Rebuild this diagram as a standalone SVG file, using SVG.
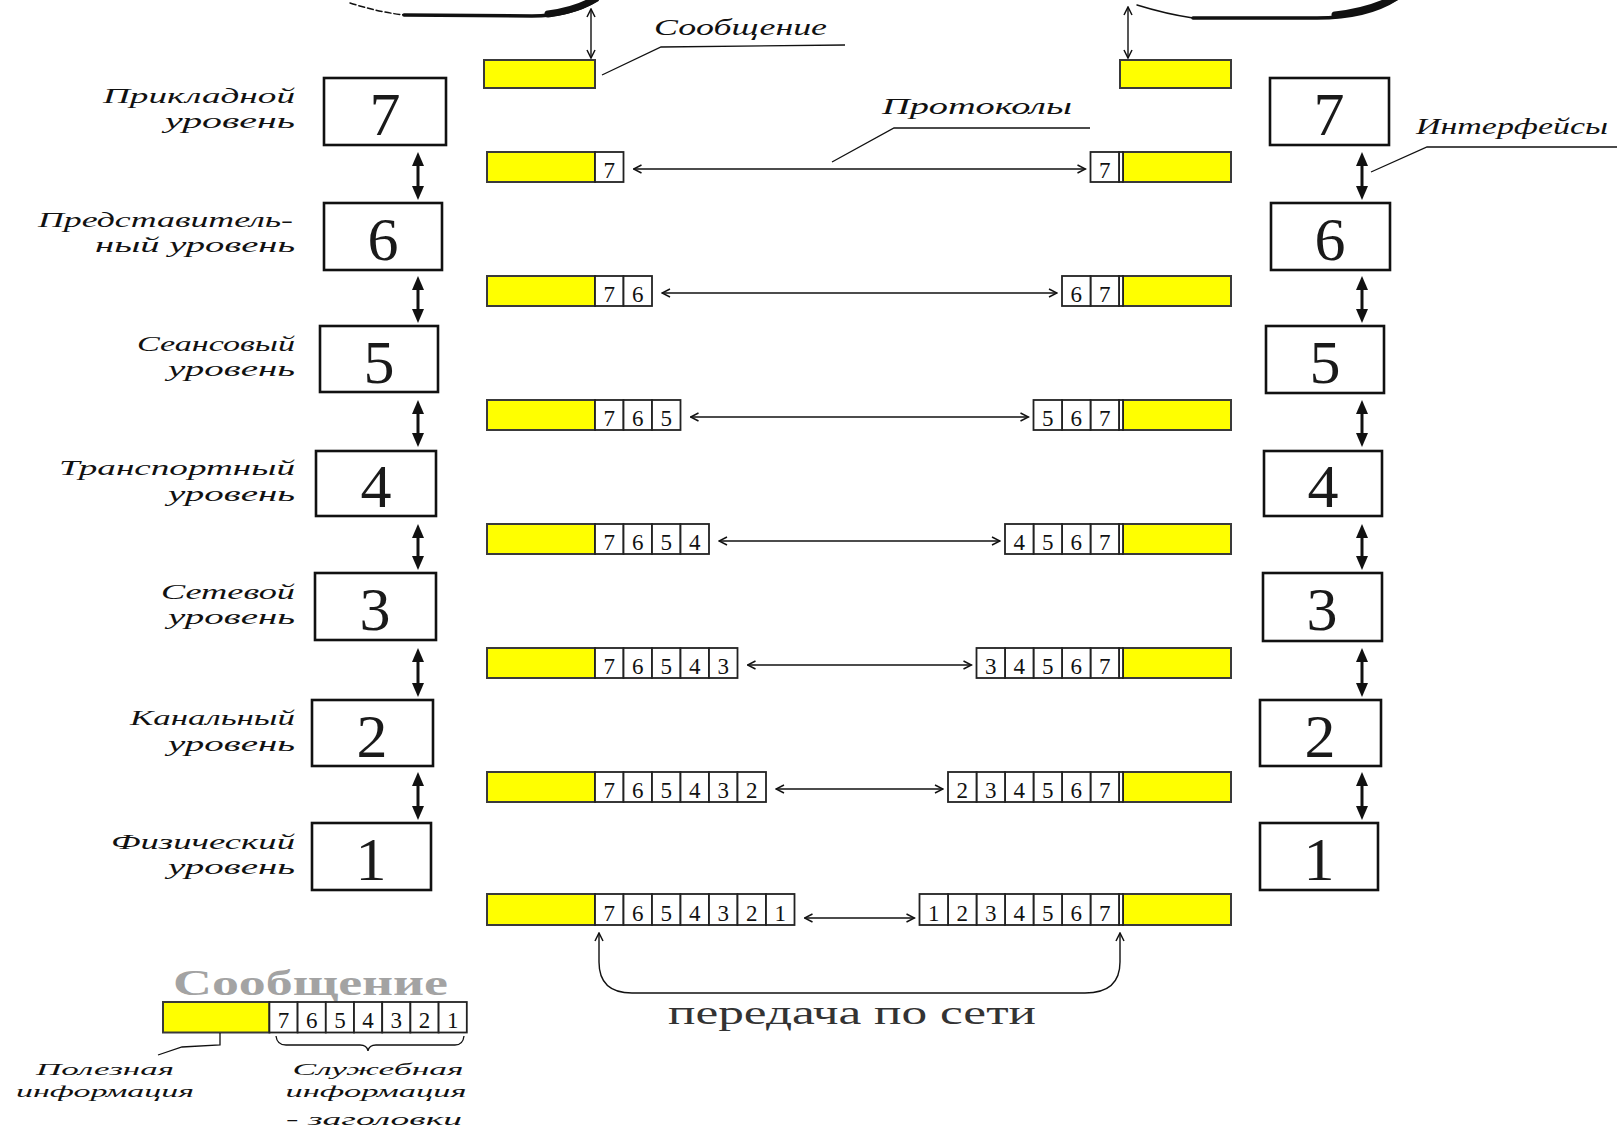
<svg xmlns="http://www.w3.org/2000/svg" width="1617" height="1131" viewBox="0 0 1617 1131">
<style>
.box{fill:#fff;stroke:#111;stroke-width:2.6}
.big{font-family:"Liberation Serif",serif;font-size:62px;text-anchor:middle;fill:#1a1a1a}
.lbl{font-family:"Liberation Serif",serif;font-style:italic;font-size:22px;text-anchor:end;fill:#111}
.note{font-family:"Liberation Serif",serif;font-style:italic;font-size:23px;fill:#111}
.cnote{font-family:"Liberation Serif",serif;font-style:italic;font-size:17px;text-anchor:middle;fill:#111}
.pay{fill:#ffff00;stroke:#3a3a3a;stroke-width:2}
.cell{fill:#fff;stroke:#222;stroke-width:1.8}
.dg{font-family:"Liberation Serif",serif;font-size:23px;text-anchor:middle;fill:#111}
.thick{stroke:#111;stroke-width:3;fill:none;marker-start:url(#tri);marker-end:url(#tri)}
.proto{stroke:#111;stroke-width:1.4;fill:none;marker-start:url(#chev);marker-end:url(#chev)}
.lead{stroke:#111;stroke-width:1.3;fill:none}
.arc{stroke:#111;fill:none;stroke-linecap:round}
</style>
<defs>
<marker id="tri" viewBox="0 0 14 12" refX="4" refY="6" markerWidth="14" markerHeight="12" markerUnits="userSpaceOnUse" orient="auto-start-reverse"><path d="M0,0 L14,6 L0,12 z" fill="#111"/></marker>
<marker id="chev" viewBox="0 0 10 10" refX="9" refY="5" markerWidth="10" markerHeight="10" markerUnits="userSpaceOnUse" orient="auto-start-reverse"><path d="M1,1 L9,5 L1,9" fill="none" stroke="#111" stroke-width="1.5"/></marker>
</defs>
<rect width="1617" height="1131" fill="#fff"/>

<g id="top-arcs">
<path class="arc" d="M350,3 Q378,12 404,15" stroke-width="1.5" stroke-dasharray="6,3"/>
<path class="arc" d="M404,15 L532,16 C560,16 582,9 597,0" stroke-width="3.5"/>
<path class="arc" d="M548,14 C570,11 586,5 596,-2" stroke-width="7"/>
<path class="arc" d="M1137,5 Q1166,14 1193,18" stroke-width="1.5"/>
<path class="arc" d="M1193,18 L1317,18 C1352,18 1380,10 1398,-2" stroke-width="3.5"/>
<path class="arc" d="M1335,15 C1360,12 1382,5 1396,-3" stroke-width="7"/>
</g>

<g id="left-stack">
<g id="L7"><rect class="box" x="324" y="78" width="122" height="67"/><text class="big" x="385" y="135" fill="#555">7</text></g>
<g id="L6"><rect class="box" x="324" y="203" width="118" height="67"/><text class="big" x="383" y="260">6</text></g>
<g id="L5"><rect class="box" x="320" y="326" width="118" height="66"/><text class="big" x="379" y="383">5</text></g>
<g id="L4"><rect class="box" x="316" y="451" width="120" height="65"/><text class="big" x="376" y="507">4</text></g>
<g id="L3"><rect class="box" x="315" y="573" width="121" height="67"/><text class="big" x="375" y="630">3</text></g>
<g id="L2"><rect class="box" x="312" y="700" width="121" height="66"/><text class="big" x="372" y="757">2</text></g>
<g id="L1"><rect class="box" x="312" y="823" width="119" height="67"/><text class="big" x="371" y="880">1</text></g>
</g>

<g id="right-stack">
<g id="R7"><rect class="box" x="1270" y="78" width="119" height="67"/><text class="big" x="1329" y="135" fill="#555">7</text></g>
<g id="R6"><rect class="box" x="1271" y="203" width="119" height="67"/><text class="big" x="1330" y="260">6</text></g>
<g id="R5"><rect class="box" x="1266" y="326" width="118" height="67"/><text class="big" x="1325" y="383">5</text></g>
<g id="R4"><rect class="box" x="1264" y="451" width="118" height="65"/><text class="big" x="1323" y="507">4</text></g>
<g id="R3"><rect class="box" x="1263" y="573" width="119" height="68"/><text class="big" x="1322" y="630">3</text></g>
<g id="R2"><rect class="box" x="1260" y="700" width="121" height="66"/><text class="big" x="1320" y="757">2</text></g>
<g id="R1"><rect class="box" x="1260" y="823" width="118" height="67"/><text class="big" x="1319" y="880">1</text></g>
</g>

<g id="layer-labels">
<text class="lbl" x="295" y="103" textLength="192" lengthAdjust="spacingAndGlyphs">Прикладной</text>
<text class="lbl" x="295" y="128" textLength="130" lengthAdjust="spacingAndGlyphs">уровень</text>
<text class="lbl" x="293" y="227" textLength="255" lengthAdjust="spacingAndGlyphs">Представитель-</text>
<text class="lbl" x="295" y="252" textLength="200" lengthAdjust="spacingAndGlyphs">ный уровень</text>
<text class="lbl" x="295" y="351" textLength="158" lengthAdjust="spacingAndGlyphs">Сеансовый</text>
<text class="lbl" x="295" y="376" textLength="127" lengthAdjust="spacingAndGlyphs">уровень</text>
<text class="lbl" x="295" y="475" textLength="236" lengthAdjust="spacingAndGlyphs">Транспортный</text>
<text class="lbl" x="295" y="501" textLength="127" lengthAdjust="spacingAndGlyphs">уровень</text>
<text class="lbl" x="295" y="599" textLength="134" lengthAdjust="spacingAndGlyphs">Сетевой</text>
<text class="lbl" x="295" y="624" textLength="127" lengthAdjust="spacingAndGlyphs">уровень</text>
<text class="lbl" x="295" y="725" textLength="165" lengthAdjust="spacingAndGlyphs">Канальный</text>
<text class="lbl" x="295" y="751" textLength="127" lengthAdjust="spacingAndGlyphs">уровень</text>
<text class="lbl" x="295" y="849" textLength="184" lengthAdjust="spacingAndGlyphs">Физический</text>
<text class="lbl" x="295" y="874" textLength="127" lengthAdjust="spacingAndGlyphs">уровень</text>
</g>

<g id="msg-left"><rect class="pay" x="484" y="60" width="111" height="28"/></g>
<g id="msg-right"><rect class="pay" x="1120" y="60" width="111" height="28"/></g>

<g id="packets-left">
<g id="PL1"><rect class="pay" x="487" y="152" width="108" height="30"/>
<rect class="cell" x="595" y="152" width="28.5" height="30"/><text class="dg" x="609.25" y="178">7</text></g>
<g id="PL2"><rect class="pay" x="487" y="276" width="108" height="30"/>
<rect class="cell" x="595" y="276" width="28.5" height="30"/><text class="dg" x="609.25" y="302">7</text>
<rect class="cell" x="623.5" y="276" width="28.5" height="30"/><text class="dg" x="637.75" y="302">6</text></g>
<g id="PL3"><rect class="pay" x="487" y="400" width="108" height="30"/>
<rect class="cell" x="595" y="400" width="28.5" height="30"/><text class="dg" x="609.25" y="426">7</text>
<rect class="cell" x="623.5" y="400" width="28.5" height="30"/><text class="dg" x="637.75" y="426">6</text>
<rect class="cell" x="652" y="400" width="28.5" height="30"/><text class="dg" x="666.25" y="426">5</text></g>
<g id="PL4"><rect class="pay" x="487" y="524" width="108" height="30"/>
<rect class="cell" x="595" y="524" width="28.5" height="30"/><text class="dg" x="609.25" y="550">7</text>
<rect class="cell" x="623.5" y="524" width="28.5" height="30"/><text class="dg" x="637.75" y="550">6</text>
<rect class="cell" x="652" y="524" width="28.5" height="30"/><text class="dg" x="666.25" y="550">5</text>
<rect class="cell" x="680.5" y="524" width="28.5" height="30"/><text class="dg" x="694.75" y="550">4</text></g>
<g id="PL5"><rect class="pay" x="487" y="648" width="108" height="30"/>
<rect class="cell" x="595" y="648" width="28.5" height="30"/><text class="dg" x="609.25" y="674">7</text>
<rect class="cell" x="623.5" y="648" width="28.5" height="30"/><text class="dg" x="637.75" y="674">6</text>
<rect class="cell" x="652" y="648" width="28.5" height="30"/><text class="dg" x="666.25" y="674">5</text>
<rect class="cell" x="680.5" y="648" width="28.5" height="30"/><text class="dg" x="694.75" y="674">4</text>
<rect class="cell" x="709" y="648" width="28.5" height="30"/><text class="dg" x="723.25" y="674">3</text></g>
<g id="PL6"><rect class="pay" x="487" y="772" width="108" height="30"/>
<rect class="cell" x="595" y="772" width="28.5" height="30"/><text class="dg" x="609.25" y="798">7</text>
<rect class="cell" x="623.5" y="772" width="28.5" height="30"/><text class="dg" x="637.75" y="798">6</text>
<rect class="cell" x="652" y="772" width="28.5" height="30"/><text class="dg" x="666.25" y="798">5</text>
<rect class="cell" x="680.5" y="772" width="28.5" height="30"/><text class="dg" x="694.75" y="798">4</text>
<rect class="cell" x="709" y="772" width="28.5" height="30"/><text class="dg" x="723.25" y="798">3</text>
<rect class="cell" x="737.5" y="772" width="28.5" height="30"/><text class="dg" x="751.75" y="798">2</text></g>
<g id="PL7"><rect class="pay" x="487" y="894" width="108" height="31"/>
<rect class="cell" x="595" y="894" width="28.5" height="31"/><text class="dg" x="609.25" y="921">7</text>
<rect class="cell" x="623.5" y="894" width="28.5" height="31"/><text class="dg" x="637.75" y="921">6</text>
<rect class="cell" x="652" y="894" width="28.5" height="31"/><text class="dg" x="666.25" y="921">5</text>
<rect class="cell" x="680.5" y="894" width="28.5" height="31"/><text class="dg" x="694.75" y="921">4</text>
<rect class="cell" x="709" y="894" width="28.5" height="31"/><text class="dg" x="723.25" y="921">3</text>
<rect class="cell" x="737.5" y="894" width="28.5" height="31"/><text class="dg" x="751.75" y="921">2</text>
<rect class="cell" x="766" y="894" width="28.5" height="31"/><text class="dg" x="780.25" y="921">1</text></g>
</g>

<g id="packets-right">
<g id="PR1"><rect class="pay" x="1123" y="152" width="108" height="30"/><rect class="cell" x="1119" y="152" width="4" height="30"/>
<rect class="cell" x="1090.5" y="152" width="28.5" height="30"/><text class="dg" x="1104.75" y="178">7</text></g>
<g id="PR2"><rect class="pay" x="1123" y="276" width="108" height="30"/><rect class="cell" x="1119" y="276" width="4" height="30"/>
<rect class="cell" x="1090.5" y="276" width="28.5" height="30"/><text class="dg" x="1104.75" y="302">7</text>
<rect class="cell" x="1062" y="276" width="28.5" height="30"/><text class="dg" x="1076.25" y="302">6</text></g>
<g id="PR3"><rect class="pay" x="1123" y="400" width="108" height="30"/><rect class="cell" x="1119" y="400" width="4" height="30"/>
<rect class="cell" x="1090.5" y="400" width="28.5" height="30"/><text class="dg" x="1104.75" y="426">7</text>
<rect class="cell" x="1062" y="400" width="28.5" height="30"/><text class="dg" x="1076.25" y="426">6</text>
<rect class="cell" x="1033.5" y="400" width="28.5" height="30"/><text class="dg" x="1047.75" y="426">5</text></g>
<g id="PR4"><rect class="pay" x="1123" y="524" width="108" height="30"/><rect class="cell" x="1119" y="524" width="4" height="30"/>
<rect class="cell" x="1090.5" y="524" width="28.5" height="30"/><text class="dg" x="1104.75" y="550">7</text>
<rect class="cell" x="1062" y="524" width="28.5" height="30"/><text class="dg" x="1076.25" y="550">6</text>
<rect class="cell" x="1033.5" y="524" width="28.5" height="30"/><text class="dg" x="1047.75" y="550">5</text>
<rect class="cell" x="1005" y="524" width="28.5" height="30"/><text class="dg" x="1019.25" y="550">4</text></g>
<g id="PR5"><rect class="pay" x="1123" y="648" width="108" height="30"/><rect class="cell" x="1119" y="648" width="4" height="30"/>
<rect class="cell" x="1090.5" y="648" width="28.5" height="30"/><text class="dg" x="1104.75" y="674">7</text>
<rect class="cell" x="1062" y="648" width="28.5" height="30"/><text class="dg" x="1076.25" y="674">6</text>
<rect class="cell" x="1033.5" y="648" width="28.5" height="30"/><text class="dg" x="1047.75" y="674">5</text>
<rect class="cell" x="1005" y="648" width="28.5" height="30"/><text class="dg" x="1019.25" y="674">4</text>
<rect class="cell" x="976.5" y="648" width="28.5" height="30"/><text class="dg" x="990.75" y="674">3</text></g>
<g id="PR6"><rect class="pay" x="1123" y="772" width="108" height="30"/><rect class="cell" x="1119" y="772" width="4" height="30"/>
<rect class="cell" x="1090.5" y="772" width="28.5" height="30"/><text class="dg" x="1104.75" y="798">7</text>
<rect class="cell" x="1062" y="772" width="28.5" height="30"/><text class="dg" x="1076.25" y="798">6</text>
<rect class="cell" x="1033.5" y="772" width="28.5" height="30"/><text class="dg" x="1047.75" y="798">5</text>
<rect class="cell" x="1005" y="772" width="28.5" height="30"/><text class="dg" x="1019.25" y="798">4</text>
<rect class="cell" x="976.5" y="772" width="28.5" height="30"/><text class="dg" x="990.75" y="798">3</text>
<rect class="cell" x="948" y="772" width="28.5" height="30"/><text class="dg" x="962.25" y="798">2</text></g>
<g id="PR7"><rect class="pay" x="1123" y="894" width="108" height="31"/><rect class="cell" x="1119" y="894" width="4" height="31"/>
<rect class="cell" x="1090.5" y="894" width="28.5" height="31"/><text class="dg" x="1104.75" y="921">7</text>
<rect class="cell" x="1062" y="894" width="28.5" height="31"/><text class="dg" x="1076.25" y="921">6</text>
<rect class="cell" x="1033.5" y="894" width="28.5" height="31"/><text class="dg" x="1047.75" y="921">5</text>
<rect class="cell" x="1005" y="894" width="28.5" height="31"/><text class="dg" x="1019.25" y="921">4</text>
<rect class="cell" x="976.5" y="894" width="28.5" height="31"/><text class="dg" x="990.75" y="921">3</text>
<rect class="cell" x="948" y="894" width="28.5" height="31"/><text class="dg" x="962.25" y="921">2</text>
<rect class="cell" x="919.5" y="894" width="28.5" height="31"/><text class="dg" x="933.75" y="921">1</text></g>
</g>

<g id="connectors">
<line class="thick" x1="418" y1="162" x2="418" y2="190"/>
<line class="thick" x1="418" y1="286" x2="418" y2="313"/>
<line class="thick" x1="418" y1="410" x2="418" y2="437"/>
<line class="thick" x1="418" y1="534" x2="418" y2="560"/>
<line class="thick" x1="418" y1="658" x2="418" y2="687"/>
<line class="thick" x1="418" y1="782" x2="418" y2="810"/>
<line class="thick" x1="1362" y1="162" x2="1362" y2="190"/>
<line class="thick" x1="1362" y1="286" x2="1362" y2="313"/>
<line class="thick" x1="1362" y1="410" x2="1362" y2="437"/>
<line class="thick" x1="1362" y1="534" x2="1362" y2="560"/>
<line class="thick" x1="1362" y1="658" x2="1362" y2="687"/>
<line class="thick" x1="1362" y1="782" x2="1362" y2="810"/>
<line class="proto" x1="591" y1="9" x2="591" y2="58"/>
<line class="proto" x1="1128" y1="7" x2="1128" y2="58"/>
<line class="proto" x1="633.5" y1="169" x2="1085.5" y2="169"/>
<line class="proto" x1="662" y1="293" x2="1057" y2="293"/>
<line class="proto" x1="690.5" y1="417" x2="1028.5" y2="417"/>
<line class="proto" x1="719" y1="541" x2="1000" y2="541"/>
<line class="proto" x1="747.5" y1="665" x2="971.5" y2="665"/>
<line class="proto" x1="776" y1="789" x2="943" y2="789"/>
<line class="proto" x1="804.5" y1="918" x2="914.5" y2="918"/>
<path class="proto" d="M599,933 L599,962 Q599,993 632,993 L1085,993 Q1120,993 1120,962 L1120,933" stroke-width="1.8"/>
<polyline class="lead" points="602,75 661,47 845,45"/>
<polyline class="lead" points="832,162 894,128 1090,128"/>
<polyline class="lead" points="1371,172 1427,147 1617,147"/>
</g>

<g id="annotations">
<text class="note" x="654" y="35" textLength="173" lengthAdjust="spacingAndGlyphs">Сообщение</text>
<text class="note" x="882" y="114" textLength="190" lengthAdjust="spacingAndGlyphs">Протоколы</text>
<text class="note" x="1416" y="134" textLength="192" lengthAdjust="spacingAndGlyphs">Интерфейсы</text>
<text x="668" y="1024" font-family="Liberation Serif, serif" font-size="33" fill="#333" textLength="368" lengthAdjust="spacingAndGlyphs">передача по сети</text>
</g>

<g id="legend">
<text x="173" y="995" font-family="Liberation Serif, serif" font-weight="bold" font-size="36" fill="#a3a3a3" textLength="275" lengthAdjust="spacingAndGlyphs">Сообщение</text>
<rect class="pay" x="163" y="1002" width="106.4" height="30.5"/>
<rect class="cell" x="269.4" y="1002" width="28.2" height="30.5"/><text class="dg" x="283.5" y="1028">7</text>
<rect class="cell" x="297.6" y="1002" width="28.2" height="30.5"/><text class="dg" x="311.7" y="1028">6</text>
<rect class="cell" x="325.8" y="1002" width="28.2" height="30.5"/><text class="dg" x="339.9" y="1028">5</text>
<rect class="cell" x="354" y="1002" width="28.2" height="30.5"/><text class="dg" x="368.1" y="1028">4</text>
<rect class="cell" x="382.2" y="1002" width="28.2" height="30.5"/><text class="dg" x="396.3" y="1028">3</text>
<rect class="cell" x="410.4" y="1002" width="28.2" height="30.5"/><text class="dg" x="424.5" y="1028">2</text>
<rect class="cell" x="438.6" y="1002" width="28.2" height="30.5"/><text class="dg" x="452.7" y="1028">1</text>
<polyline class="lead" points="220,1033 220,1045 182,1047 158,1055" stroke-width="1.6"/>
<path class="lead" d="M276,1036 Q277,1045 286,1045 L360,1045 Q367,1045 368,1051 Q369,1045 376,1045 L455,1045 Q463,1045 464,1036" stroke-width="1.6"/>
<text class="cnote" x="105" y="1075" textLength="138" lengthAdjust="spacingAndGlyphs">Полезная</text>
<text class="cnote" x="105" y="1097" textLength="178" lengthAdjust="spacingAndGlyphs">информация</text>
<text class="cnote" x="378" y="1075" textLength="171" lengthAdjust="spacingAndGlyphs">Служебная</text>
<text class="cnote" x="376" y="1097" textLength="181" lengthAdjust="spacingAndGlyphs">информация</text>
<text class="cnote" x="374" y="1125" textLength="176" lengthAdjust="spacingAndGlyphs">- заголовки</text>
</g>
</svg>
